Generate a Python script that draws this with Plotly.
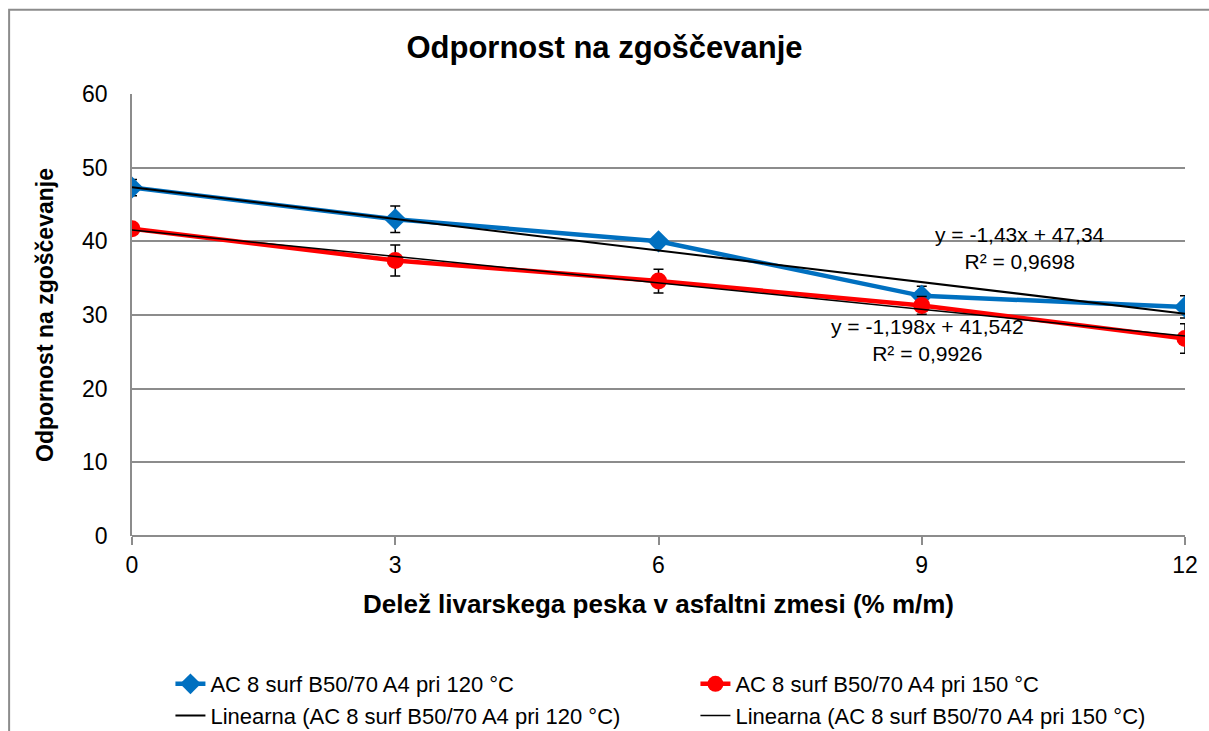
import plotly.graph_objects as go

# Share of foundry sand in the asphalt mix (% m/m)
sand_share = [0, 3, 6, 9, 12]
x_ticks = [0, 3, 6, 9, 12]

# Compaction resistance, mix AC 8 surf B50/70 A4 at 120 °C
res_120 = [47.3, 43.0, 40.0, 32.6, 31.1]
err_120 = [1.1, 1.8, 0.4, 1.3, 1.5]

# Compaction resistance, mix AC 8 surf B50/70 A4 at 150 °C
res_150 = [41.7, 37.4, 34.6, 31.3, 26.8]
err_150 = [0.3, 2.1, 1.6, 1.2, 2.0]

# Linear trend coefficients (slope, intercept, R²)
trend_120 = (-1.43, 47.34, 0.9698)
trend_150 = (-1.198, 41.542, 0.9926)

name_120 = "AC 8 surf B50/70 A4 pri 120 °C"
name_150 = "AC 8 surf B50/70 A4 pri 150 °C"

FONT = "Liberation Sans, Arial, sans-serif"
BLUE = "#0070C0"
RED = "#FF0000"
GRID = "#8C8C8C"

def trend_y(coef, xs):
    return [coef[0] * x + coef[1] for x in xs]

def fmt(v, nd):
    return f"{v:.{nd}f}".replace(".", ",")

fig = go.Figure()

fig.add_trace(go.Scatter(
    x=sand_share, y=res_120, name=name_120, mode="lines+markers",
    line=dict(color=BLUE, width=4.5),
    marker=dict(symbol="diamond", size=17, color=BLUE),
    error_y=dict(type="data", array=err_120, color="black", thickness=1.5, width=5),
    legendrank=1,
))
fig.add_trace(go.Scatter(
    x=sand_share, y=res_150, name=name_150, mode="lines+markers",
    line=dict(color=RED, width=4.5),
    marker=dict(symbol="circle", size=17, color=RED),
    error_y=dict(type="data", array=err_150, color="black", thickness=1.5, width=5),
    legendrank=2,
))

trend_x = [sand_share[0], sand_share[-1]]
fig.add_trace(go.Scatter(
    x=trend_x, y=trend_y(trend_120, trend_x), mode="lines",
    name="Linearna (" + name_120 + ")",
    line=dict(color="black", width=2), legendrank=3,
))
fig.add_trace(go.Scatter(
    x=trend_x, y=trend_y(trend_150, trend_x), mode="lines",
    name="Linearna (" + name_150 + ")",
    line=dict(color="black", width=1.5), legendrank=4,
))

eq_120 = f"y = {fmt(trend_120[0], 2)}x + {fmt(trend_120[1], 2)}<br>R² = {fmt(trend_120[2], 4)}"
eq_150 = f"y = {fmt(trend_150[0], 3)}x + {fmt(trend_150[1], 3)}<br>R² = {fmt(trend_150[2], 4)}"

fig.add_annotation(x=10.12, y=39.1, text=eq_120, showarrow=False,
                   font=dict(family=FONT, size=21, color="black"), align="center")
fig.add_annotation(x=9.06, y=26.6, text=eq_150, showarrow=False,
                   font=dict(family=FONT, size=21, color="black"), align="center")

# Outer chart-area frame
fig.add_shape(type="rect", xref="paper", yref="paper",
              x0=-0.1167, x1=1.03, y0=-0.5, y1=1.1905,
              line=dict(color="#8C8C8C", width=2), fillcolor="rgba(0,0,0,0)", layer="below")

fig.update_layout(
    width=1209, height=731,
    margin=dict(l=131.5, r=23.5, t=94, b=195, autoexpand=False),
    paper_bgcolor="white", plot_bgcolor="white",
    font=dict(family=FONT, color="black"),
    title=dict(text="<b>Odpornost na zgoščevanje</b>", x=0.5, xanchor="center",
               y=0.935, yanchor="middle", font=dict(family=FONT, size=31, color="black")),
    xaxis=dict(
        range=[0, 12], tickvals=x_ticks, ticktext=[str(t) for t in x_ticks],
        showgrid=False, zeroline=False, showline=False,
        ticks="outside", ticklen=8, tickcolor=GRID, tickwidth=1.5,
        tickfont=dict(family=FONT, size=23, color="black"),
        title=dict(text="<b>Delež livarskega peska v asfaltni zmesi (% m/m)</b>",
                   font=dict(family=FONT, size=26, color="black"), standoff=18),
    ),
    yaxis=dict(
        range=[0, 60], dtick=10, showgrid=True, gridcolor=GRID, gridwidth=1.5,
        zeroline=True, zerolinecolor=GRID, zerolinewidth=1.5,
        showline=True, linecolor=GRID, linewidth=1.5,
        ticks="", tickfont=dict(family=FONT, size=23, color="black"),
        ticklabelstandoff=18,
        title=dict(text="<b>Odpornost na zgoščevanje</b>",
                   font=dict(family=FONT, size=23, color="black"), standoff=22),
    ),
    legend=dict(
        orientation="h", x=0.0365, xanchor="left", y=-0.2873, yanchor="top",
        entrywidth=480, entrywidthmode="pixels", traceorder="normal",
        font=dict(family=FONT, size=22, color="black"),
        bgcolor="rgba(0,0,0,0)", itemwidth=30, tracegroupgap=0,
    ),
    showlegend=True,
)

fig.write_html("out.html")
